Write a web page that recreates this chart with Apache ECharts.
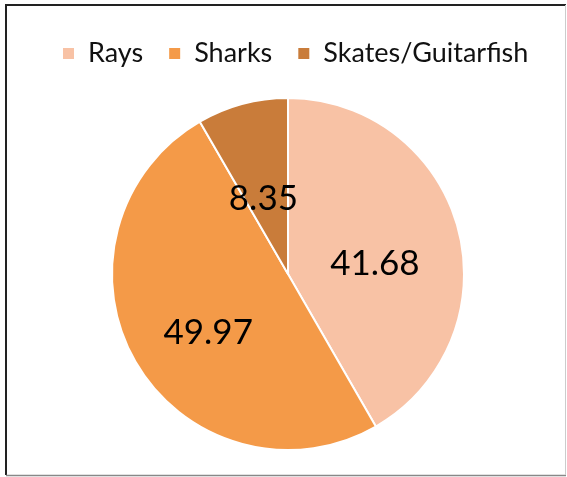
<!DOCTYPE html>
<html>
<head>
<meta charset="utf-8">
<style>
  html, body { margin: 0; padding: 0; background: #ffffff; }
  #chart { width: 567px; height: 477px; }
</style>
<script src="https://cdn.jsdelivr.net/npm/echarts@6/dist/echarts.min.js"></script>
</head>
<body>
<div id="chart"></div>
<script>
// Share of catch by group (percent)
const categories = ['Rays', 'Sharks', 'Skates/Guitarfish'];
const shares = [41.68, 49.97, 8.35];
const colors = ['#F8C2A5', '#F49A48', '#C97C3A'];

const chart = echarts.init(document.getElementById('chart'), null, { renderer: 'canvas' });

const FONT = 'Lato, "Open Sans", sans-serif';

chart.setOption({
  animation: false,
  backgroundColor: '#ffffff',
  color: colors,
  legend: {
    data: categories,
    top: 35,
    left: 56,
    itemWidth: 13,
    itemHeight: 13,
    itemGap: 24,
    icon: 'rect',
    textStyle: {
      fontFamily: FONT,
      fontSize: 27,
      color: '#111111',
      padding: [0, 0, 0, 8]
    }
  },
  graphic: [
    { type: 'line', shape: { x1: 6, y1: 5, x2: 566, y2: 5 }, style: { stroke: '#222222', lineWidth: 2 } },
    { type: 'line', shape: { x1: 6, y1: 4, x2: 6, y2: 475 }, style: { stroke: '#222222', lineWidth: 2 } },
    { type: 'line', shape: { x1: 6, y1: 475.5, x2: 566, y2: 475.5 }, style: { stroke: '#888888', lineWidth: 1.5 } },
    { type: 'line', shape: { x1: 565.5, y1: 5, x2: 565.5, y2: 475 }, style: { stroke: '#cccccc', lineWidth: 1 } }
  ],
  series: [{
    type: 'pie',
    center: [288, 274],
    radius: [0, 176],
    startAngle: 90,
    clockwise: true,
    itemStyle: { borderColor: '#ffffff', borderWidth: 2 },
    label: {
      show: true,
      position: 'inside',
      formatter: p => p.value.toFixed(2),
      fontFamily: FONT,
      fontSize: 35,
      color: '#000000',
      offset: [-1, 13]
    },
    labelLine: { show: false },
    emphasis: { disabled: true },
    data: categories.map((name, i) => ({ name, value: shares[i] }))
  }]
});
</script>
</body>
</html>
